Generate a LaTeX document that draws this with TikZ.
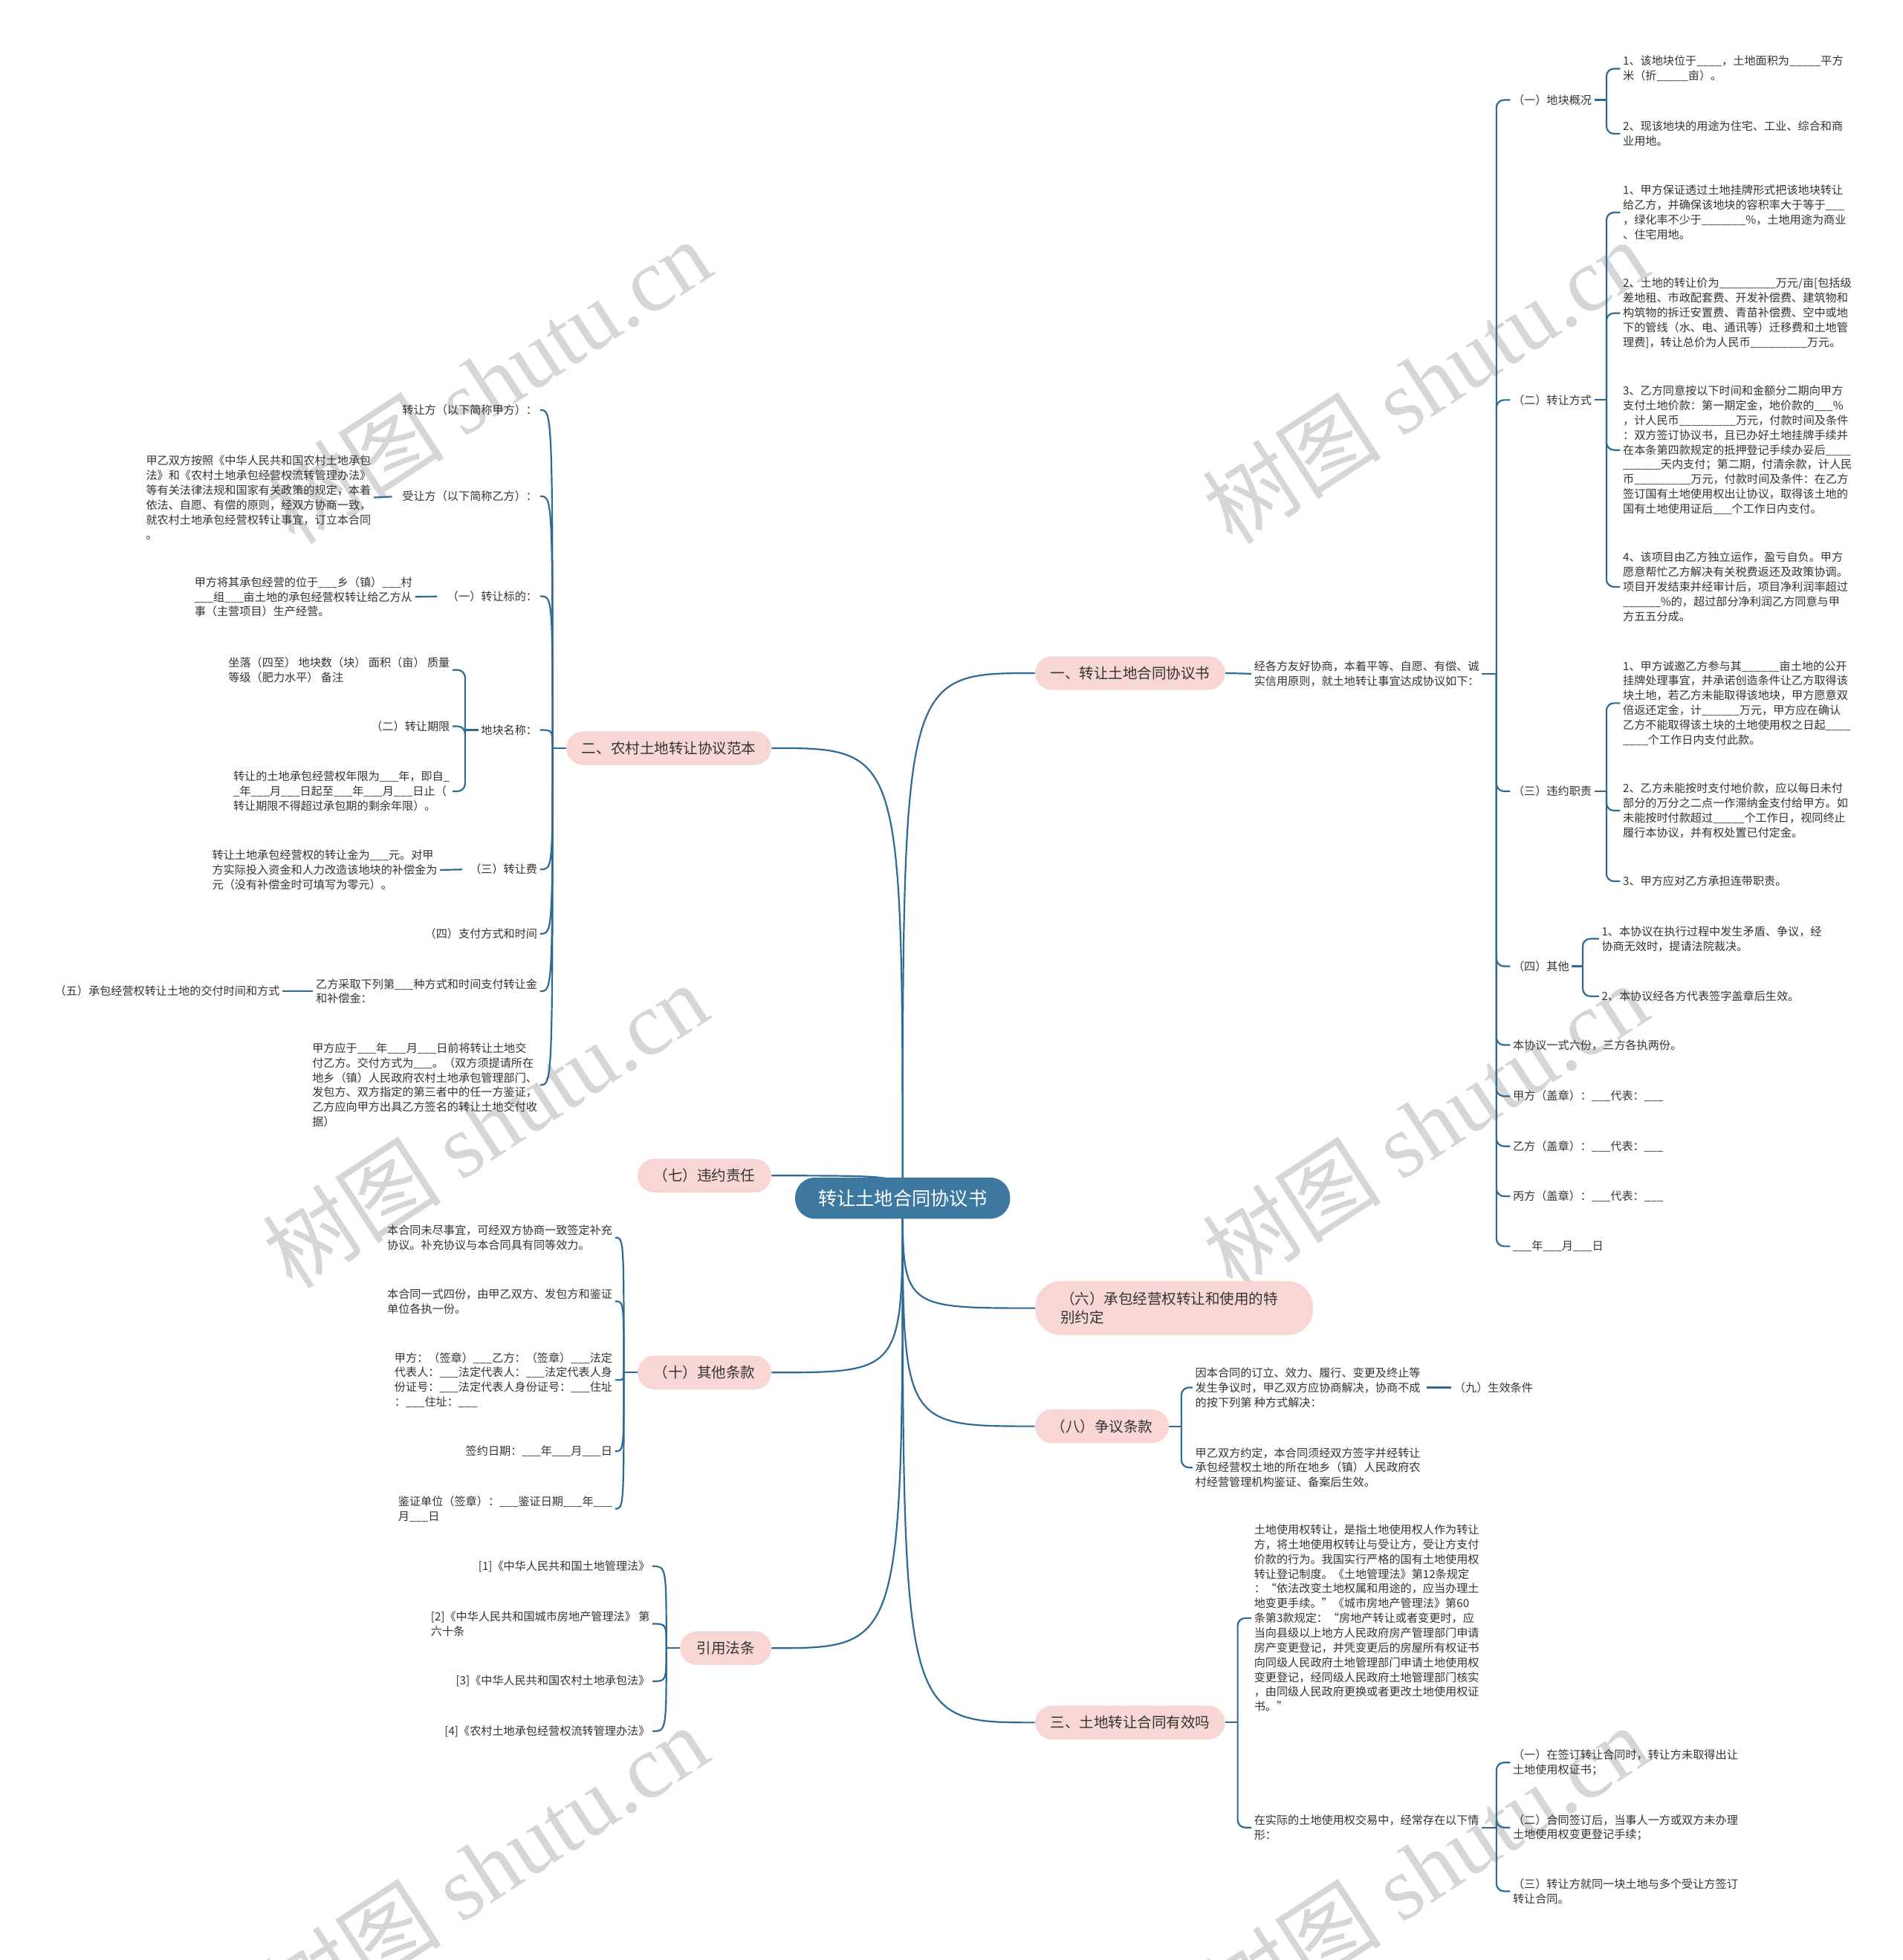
\documentclass[tikz,border=0pt]{standalone}
\usepackage{fontspec}
\setmainfont{Noto Sans CJK SC}
\newfontfamily\wmserif{Liberation Serif}
\usetikzlibrary{calc}
\definecolor{lc}{HTML}{2E6A91}
\definecolor{rc}{HTML}{3D78A0}
\definecolor{pk}{HTML}{F8D6D4}
\definecolor{tc}{HTML}{333333}
\definecolor{wmc}{HTML}{D6D6D6}
\newcommand\fsA{\fontsize{9}{11.8}\selectfont}
\newcommand\fsB{\fontsize{11.6}{15}\selectfont}
\newcommand\fsC{\fontsize{15}{18}\selectfont}
\newcommand\fsW{\fontsize{72}{72}\selectfont}
\pgfdeclarelayer{wmlayer}
\pgfdeclarelayer{linelayer}
\pgfsetlayers{wmlayer,linelayer,main}
\tikzset{
  txt/.style={font=\fsA, align=left, inner sep=2pt, text=tc},
  pnode/.style={fill=pk, rounded corners=13.5pt, minimum height=27pt, font=\fsB, text=tc, inner sep=0pt},
  rootn/.style={fill=rc, text=white, font=\fsC, rounded corners=16pt, minimum width=172pt, minimum height=33pt, inner sep=0pt},
  conn/.style={draw=lc, line width=1.3pt},
  brk/.style={conn, rounded corners=6pt},
  wmk/.style={font=\fsW, text=wmc, rotate=33, inner sep=0pt}
}
\begin{document}
\begin{tikzpicture}[x=1pt,y=-1pt]
\useasboundingbox (0,0) rectangle (1522,1568);

% ---------- root and main branches ----------
\node[rootn] (root) at (722,958.5) {转让土地合同协议书};
\node[pnode, minimum width=152pt] (P1) at (904,538.5) {一、转让土地合同协议书};
\node[pnode, minimum width=164pt] (P2) at (535,598.5) {二、农村土地转让协议范本};
\node[pnode, minimum width=107pt] (P7) at (563.5,940.5) {（七）违约责任};
\node[pnode, minimum width=107pt] (P10) at (563.5,1098) {（十）其他条款};
\node[pnode, minimum width=73pt] (PY) at (580.5,1318.5) {引用法条};
\node[pnode, minimum width=107pt] (P8) at (881.5,1141) {（八）争议条款};
\node[pnode, minimum width=152pt] (P3) at (904,1378) {三、土地转让合同有效吗};
\node[pnode, rounded corners=20pt, minimum height=43pt, text width=182pt, align=left, inner xsep=20pt, anchor=west] (P6) at (828,1046.5) {（六）承包经营权转让和使用的特\\别约定};

% ---------- right: 一 ----------
\node[txt,anchor=west] (T1) at (1001,539) {经各方友好协商，本着平等、自愿、有偿、诚\\实信用原则，就土地转让事宜达成协议如下：};
\coordinate (jT1) at (1197,539);
\node[txt,anchor=west] (R1) at (1208,80) {（一）地块概况};
\node[txt,anchor=west] (R2) at (1208,320) {（二）转让方式};
\node[txt,anchor=west] (R3) at (1208,633) {（三）违约职责};
\node[txt,anchor=west] (R4) at (1208,773) {（四）其他};
\node[txt,anchor=west] (R5) at (1208,836) {本协议一式六份，三方各执两份。};
\node[txt,anchor=west] (R6) at (1208,877) {甲方（盖章）：\_\_\_代表：\_\_\_};
\node[txt,anchor=west] (R7) at (1208,917) {乙方（盖章）：\_\_\_代表：\_\_\_};
\node[txt,anchor=west] (R8) at (1208,957) {丙方（盖章）：\_\_\_代表：\_\_\_};
\node[txt,anchor=west] (R9) at (1208,997) {\_\_\_年\_\_\_月\_\_\_日};

\coordinate (jR1) at (1285,80);
\node[txt,anchor=west] (R1a) at (1296,55) {1、该地块位于\_\_\_\_，土地面积为\_\_\_\_\_平方\\米（折\_\_\_\_\_亩）。};
\node[txt,anchor=west] (R1b) at (1296,107) {2、现该地块的用途为住宅、工业、综合和商\\业用地。};

\coordinate (jR2) at (1285,320);
\node[txt,anchor=west] (R2a) at (1296,170) {1、甲方保证透过土地挂牌形式把该地块转让\\给乙方，并确保该地块的容积率大于等于\_\_\_\\，绿化率不少于\_\_\_\_\_\_\_\%，土地用途为商业\\、住宅用地。};
\node[txt,anchor=west] (R2b) at (1296,250.5) {2、土地的转让价为\_\_\_\_\_\_\_\_\_万元/亩[包括级\\差地租、市政配套费、开发补偿费、建筑物和\\构筑物的拆迁安置费、青苗补偿费、空中或地\\下的管线（水、电、通讯等）迁移费和土地管\\理费]，转让总价为人民币\_\_\_\_\_\_\_\_\_万元。};
\node[txt,anchor=west] (R2c) at (1296,360) {3、乙方同意按以下时间和金额分二期向甲方\\支付土地价款：第一期定金，地价款的\_\_\_\%\\，计人民币\_\_\_\_\_\_\_\_\_万元，付款时间及条件\\：双方签订协议书，且已办好土地挂牌手续并\\在本条第四款规定的抵押登记手续办妥后\_\_\_\_\\\_\_\_\_\_\_天内支付；第二期，付清余款，计人民\\币\_\_\_\_\_\_\_\_\_万元，付款时间及条件：在乙方\\签订国有土地使用权出让协议，取得该土地的\\国有土地使用证后\_\_\_个工作日内支付。};
\node[txt,anchor=west] (R2d) at (1296,469.5) {4、该项目由乙方独立运作，盈亏自负。甲方\\愿意帮忙乙方解决有关税费返还及政策协调。\\项目开发结束并经审计后，项目净利润率超过\\\_\_\_\_\_\_\%的，超过部分净利润乙方同意与甲\\方五五分成。};

\coordinate (jR3) at (1285,633);
\node[txt,anchor=west] (R3a) at (1296,562.5) {1、甲方诚邀乙方参与其\_\_\_\_\_\_亩土地的公开\\挂牌处理事宜，并承诺创造条件让乙方取得该\\块土地，若乙方未能取得该地块，甲方愿意双\\倍返还定金，计\_\_\_\_\_\_万元，甲方应在确认\\乙方不能取得该土块的土地使用权之日起\_\_\_\_\\\_\_\_\_个工作日内支付此款。};
\node[txt,anchor=west] (R3b) at (1296,648.5) {2、乙方未能按时支付地价款，应以每日未付\\部分的万分之二点一作滞纳金支付给甲方。如\\未能按时付款超过\_\_\_\_\_个工作日，视同终止\\履行本协议，并有权处置已付定金。};
\node[txt,anchor=west] (R3c) at (1296,705) {3、甲方应对乙方承担连带职责。};

\coordinate (jR4) at (1266,773);
\node[txt,anchor=west] (R4a) at (1279,751) {1、本协议在执行过程中发生矛盾、争议，经\\协商无效时，提请法院裁决。};
\node[txt,anchor=west] (R4b) at (1279,797) {2、本协议经各方代表签字盖章后生效。};

% ---------- right: 八 ----------
\coordinate (jP8) at (945,1141);
\node[txt,anchor=west] (P8a) at (954,1110) {因本合同的订立、效力、履行、变更及终止等\\发生争议时，甲乙双方应协商解决，协商不成\\的按下列第 种方式解决：};
\node[txt,anchor=west] (P8b) at (954,1174) {甲乙双方约定，本合同须经双方签字并经转让\\承包经营权土地的所在地乡（镇）人民政府农\\村经营管理机构鉴证、备案后生效。};
\node[txt,anchor=west] (N9) at (1161,1110) {（九）生效条件};

% ---------- right: 三 ----------
\coordinate (jP3) at (990,1378);
\node[txt,anchor=west] (P3a) at (1001,1294.5) {土地使用权转让，是指土地使用权人作为转让\\方，将土地使用权转让与受让方，受让方支付\\价款的行为。我国实行严格的国有土地使用权\\转让登记制度。《土地管理法》第12条规定\\：“依法改变土地权属和用途的，应当办理土\\地变更手续。”《城市房地产管理法》第60\\条第3款规定：“房地产转让或者变更时，应\\当向县级以上地方人民政府房产管理部门申请\\房产变更登记，并凭变更后的房屋所有权证书\\向同级人民政府土地管理部门申请土地使用权\\变更登记，经同级人民政府土地管理部门核实\\，由同级人民政府更换或者更改土地使用权证\\书。”};
\node[txt,anchor=west] (P3b) at (1001,1462) {在实际的土地使用权交易中，经常存在以下情\\形：};
\coordinate (jP3b) at (1197,1462);
\node[txt,anchor=west] (P3b1) at (1208,1410) {（一）在签订转让合同时，转让方未取得出让\\土地使用权证书；};
\node[txt,anchor=west] (P3b2) at (1208,1462) {（二）合同签订后，当事人一方或双方未办理\\土地使用权变更登记手续；};
\node[txt,anchor=west] (P3b3) at (1208,1513) {（三）转让方就同一块土地与多个受让方签订\\转让合同。};

% ---------- left: 二 ----------
\coordinate (jP2) at (442,598.5);
\node[txt,anchor=east] (La) at (432,328) {转让方（以下简称甲方）：};
\node[txt,anchor=east] (Lb) at (432,397) {受让方（以下简称乙方）：};
\node[txt,anchor=east] (Lb1) at (299,398) {甲乙双方按照《中华人民共和国农村土地承包\\法》和《农村土地承包经营权流转管理办法》\\等有关法律法规和国家有关政策的规定，本着\\依法、自愿、有偿的原则，经双方协商一致，\\就农村土地承包经营权转让事宜，订立本合同\\。};
\node[txt,anchor=east] (Lc) at (432,477) {（一）转让标的：};
\node[txt,anchor=east] (Lc1) at (332,477.5) {甲方将其承包经营的位于\_\_\_乡（镇）\_\_\_村\\\_\_\_组\_\_\_亩土地的承包经营权转让给乙方从\\事（主营项目）生产经营。};
\node[txt,anchor=east] (Ld) at (432,584) {地块名称：};
\coordinate (jLd) at (372,584);
\node[txt,anchor=east] (Ld1) at (362,536) {坐落（四至） 地块数（块） 面积（亩） 质量\\等级（肥力水平） 备注};
\node[txt,anchor=east] (Ld2) at (362,581) {（二）转让期限};
\node[txt,anchor=east] (Ld3) at (362,633) {转让的土地承包经营权年限为\_\_\_年，即自\_\\\_年\_\_\_月\_\_\_日起至\_\_\_年\_\_\_月\_\_\_日止（\\转让期限不得超过承包期的剩余年限）。};
\node[txt,anchor=east] (Le) at (432,695.5) {（三）转让费};
\node[txt,anchor=east] (Le1) at (352,696) {转让土地承包经营权的转让金为\_\_\_元。对甲\\方实际投入资金和人力改造该地块的补偿金为\\元（没有补偿金时可填写为零元）。};
\node[txt,anchor=east] (Lf) at (432,747) {（四）支付方式和时间};
\node[txt,anchor=east] (Lg) at (432,793) {乙方采取下列第\_\_\_种方式和时间支付转让金\\和补偿金：};
\node[txt,anchor=east] (Lg1) at (226,793) {（五）承包经营权转让土地的交付时间和方式};
\node[txt,anchor=east] (Lh) at (432,868) {甲方应于\_\_\_年\_\_\_月\_\_\_日前将转让土地交\\付乙方。交付方式为\_\_\_。（双方须提请所在\\地乡（镇）人民政府农村土地承包管理部门、\\发包方、双方指定的第三者中的任一方鉴证，\\乙方应向甲方出具乙方签名的转让土地交付收\\据）};

% ---------- left: 十 ----------
\coordinate (jP10) at (499,1098);
\node[txt,anchor=east] (Ta) at (492,990) {本合同未尽事宜，可经双方协商一致签定补充\\协议。补充协议与本合同具有同等效力。};
\node[txt,anchor=east] (Tb) at (492,1041) {本合同一式四份，由甲乙双方、发包方和鉴证\\单位各执一份。};
\node[txt,anchor=east] (Tc) at (492,1104) {甲方：（签章）\_\_\_乙方：（签章）\_\_\_法定\\代表人：\_\_\_法定代表人：\_\_\_法定代表人身\\份证号：\_\_\_法定代表人身份证号：\_\_\_住址\\：\_\_\_住址：\_\_\_};
\node[txt,anchor=east] (Td) at (492,1161) {签约日期：\_\_\_年\_\_\_月\_\_\_日};
\node[txt,anchor=east] (Te) at (492,1207) {鉴证单位（签章）：\_\_\_鉴证日期\_\_\_年\_\_\_\\月\_\_\_日};

% ---------- left: 引用法条 ----------
\coordinate (jPY) at (533,1318.5);
\node[txt,anchor=east] (Y1) at (522,1253) {[1]《中华人民共和国土地管理法》};
\node[txt,anchor=east] (Y2) at (522,1299) {[2]《中华人民共和国城市房地产管理法》 第\\六十条};
\node[txt,anchor=east] (Y3) at (522,1345) {[3]《中华人民共和国农村土地承包法》};
\node[txt,anchor=east] (Y4) at (522,1385) {[4]《农村土地承包经营权流转管理办法》};

% ---------- watermarks ----------
\begin{pgfonlayer}{wmlayer}
\fill[white] (0,0) rectangle (1522,1568);
\foreach \wx/\wy [count=\i] in {390/305,1140/305,388/900,1140/900,388/1494,1140/1494}
  {\node[wmk] (wm\i) at (\wx,\wy) {树图 {\wmserif shutu.cn}};}
\end{pgfonlayer}

% ---------- connectors ----------
\begin{pgfonlayer}{linelayer}
\foreach \p in {P1,P6,P8,P3}
  {\draw[conn] (root.center) .. controls (root.center |- \p.west) .. (\p.west);}
\foreach \p in {P2,P7,P10,PY}
  {\draw[conn] (root.center) .. controls (root.center |- \p.east) .. (\p.east);}

\draw[conn] (P1.east) -- (T1.west);
\draw[conn] (T1.east) -- (jT1);
\foreach \c in {R1,R2,R3,R4,R5,R6,R7,R8,R9} {\draw[brk] (jT1) |- (\c.west);}
\draw[conn] (R1.east) -- (jR1);
\foreach \c in {R1a,R1b} {\draw[brk] (jR1) |- (\c.west);}
\draw[conn] (R2.east) -- (jR2);
\foreach \c in {R2a,R2b,R2c,R2d} {\draw[brk] (jR2) |- (\c.west);}
\draw[conn] (R3.east) -- (jR3);
\foreach \c in {R3a,R3b,R3c} {\draw[brk] (jR3) |- (\c.west);}
\draw[conn] (R4.east) -- (jR4);
\foreach \c in {R4a,R4b} {\draw[brk] (jR4) |- (\c.west);}

\draw[conn] (P8.east) -- (jP8);
\foreach \c in {P8a,P8b} {\draw[brk] (jP8) |- (\c.west);}
\draw[conn, shorten <=3pt] (P8a.east) -- (N9.west);

\draw[conn] (P3.east) -- (jP3);
\foreach \c in {P3a,P3b} {\draw[brk] (jP3) |- (\c.west);}
\draw[conn] (P3b.east) -- (jP3b);
\foreach \c in {P3b1,P3b2,P3b3} {\draw[brk] (jP3b) |- (\c.west);}

\draw[conn] (P2.west) -- (jP2);
\foreach \c in {La,Lb,Lc,Ld,Le,Lf,Lg,Lh}
  {\draw[conn] (jP2) .. controls (jP2 |- \c.east) .. (\c.east);}
\draw[conn, shorten <=6pt] (Lb.west) -- (Lb1.east);
\draw[conn, shorten <=6pt] (Lc.west) -- (Lc1.east);
\draw[conn] (Ld.west) -- (jLd);
\foreach \c in {Ld1,Ld2,Ld3} {\draw[brk] (jLd) |- (\c.east);}
\draw[conn, shorten <=4pt] (Le.west) -- (Le1.east);
\draw[conn] (Lg.west) -- (Lg1.east);

\draw[conn] (P10.west) -- (jP10);
\foreach \c in {Ta,Tb,Tc,Td,Te}
  {\draw[conn] (jP10) .. controls (jP10 |- \c.east) .. (\c.east);}

\draw[conn] (PY.west) -- (jPY);
\foreach \c in {Y1,Y2,Y3,Y4}
  {\draw[conn] (jPY) .. controls (jPY |- \c.east) .. (\c.east);}
\end{pgfonlayer}
\end{tikzpicture}
\end{document}
